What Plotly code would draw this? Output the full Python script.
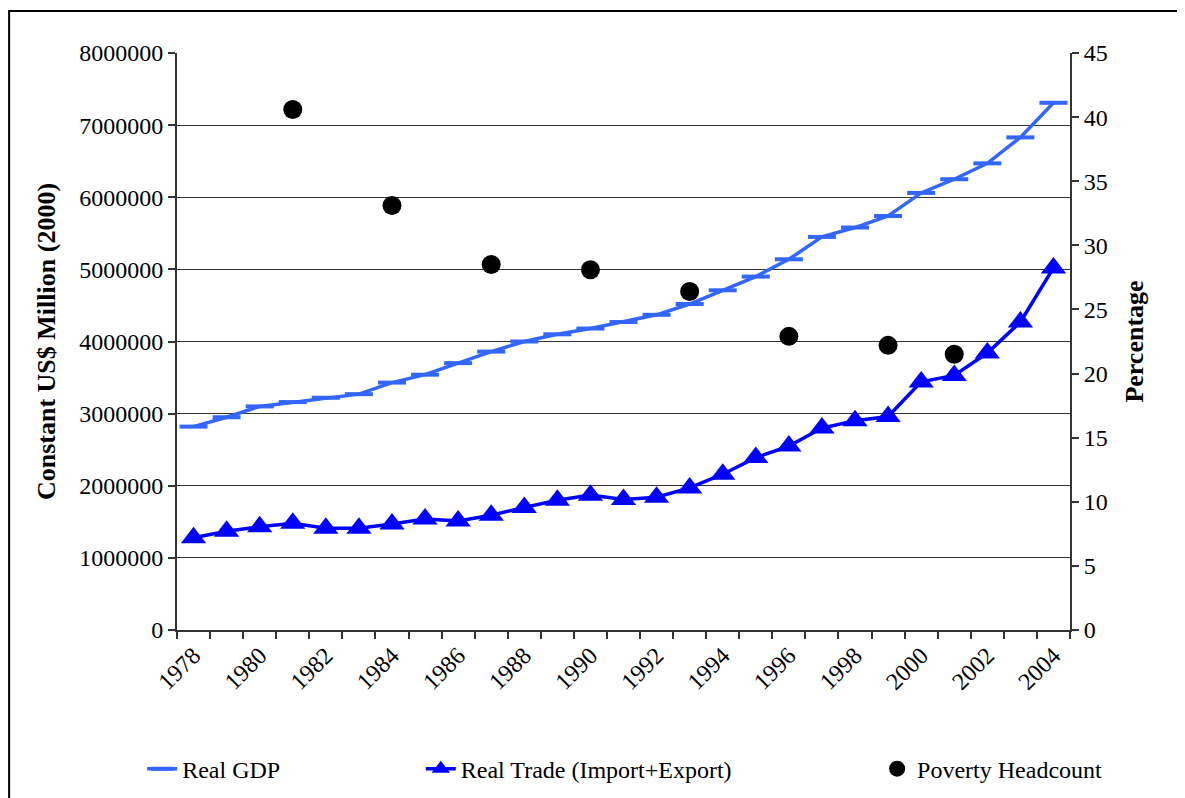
import plotly.graph_objects as go

years = list(range(1978, 2005))

real_gdp = [2820000, 2950000, 3100000, 3160000, 3220000, 3270000, 3430000, 3540000, 3700000,
            3860000, 4000000, 4100000, 4180000, 4270000, 4370000, 4520000, 4710000, 4900000,
            5140000, 5450000, 5580000, 5740000, 6060000, 6250000, 6470000, 6830000, 7310000]

real_trade = [1280000, 1370000, 1430000, 1480000, 1410000, 1410000, 1470000, 1540000, 1510000,
              1590000, 1700000, 1800000, 1870000, 1810000, 1840000, 1970000, 2160000, 2390000,
              2550000, 2800000, 2900000, 2960000, 3440000, 3530000, 3840000, 4270000, 5020000]

poverty_years = [1981, 1984, 1987, 1990, 1993, 1996, 1999, 2001]
poverty_headcount = [40.6, 33.1, 28.5, 28.1, 26.4, 22.9, 22.2, 21.5]

tick_years = years[::2]
boundaries = [y - 0.5 for y in years] + [years[-1] + 0.5]

font = "Liberation Serif, Times New Roman, serif"
axis_color = "#333333"

fig = go.Figure()

fig.add_trace(go.Scatter(
    x=years, y=real_gdp, name="Real GDP", mode="lines+markers",
    line=dict(color="#3366FF", width=3.5),
    marker=dict(symbol="line-ew", size=20, line=dict(color="#3366FF", width=4)),
    legend="legend",
))

fig.add_trace(go.Scatter(
    x=years, y=real_trade, name="Real Trade (Import+Export)", mode="lines+markers",
    line=dict(color="#0000FF", width=3.5),
    marker=dict(symbol="triangle-up", size=22, color="#0000FF"),
    legend="legend2",
))

fig.add_trace(go.Scatter(
    x=poverty_years, y=poverty_headcount, name="Poverty Headcount", mode="markers",
    marker=dict(symbol="circle", size=19, color="black"),
    yaxis="y2", legend="legend3",
))

legend_style = dict(orientation="h", yanchor="middle", y=-0.241, xanchor="left",
                    font=dict(family=font, size=24, color="black"), bgcolor="rgba(0,0,0,0)")

fig.update_layout(
    width=1177, height=790,
    margin=dict(l=169, r=115, t=45, b=168, autoexpand=False),
    plot_bgcolor="white", paper_bgcolor="white",
    font=dict(family=font, size=24, color="black"),
    showlegend=True,
    legend=dict(x=-0.039, **legend_style),
    legend2=dict(x=0.273, **legend_style),
    legend3=dict(x=0.784, **legend_style),
    xaxis=dict(
        range=[1977.5, 2004.5], tickmode="array", tickvals=tick_years,
        ticktext=[str(y) for y in tick_years], tickangle=-45, ticks="",
        showline=True, linecolor=axis_color, linewidth=2, showgrid=False, zeroline=False,
        minor=dict(tickmode="array", tickvals=boundaries, ticks="outside", ticklen=7,
                   tickcolor=axis_color, tickwidth=1.5, showgrid=False),
        tickfont=dict(family=font, size=24),
    ),
    yaxis=dict(
        range=[0, 8000000], dtick=1000000, tickformat="d",
        showline=True, linecolor=axis_color, linewidth=2,
        ticks="outside", ticklen=7, tickcolor=axis_color, tickwidth=1.5,
        showgrid=True, gridcolor="#333333", gridwidth=1, zeroline=False,
        tickfont=dict(family=font, size=24),
        title=dict(text="<b>Constant US$ Million (2000)</b>", font=dict(family=font, size=26),
                   standoff=16),
    ),
    yaxis2=dict(
        range=[0, 45], dtick=5, overlaying="y", side="right",
        showline=True, linecolor=axis_color, linewidth=2,
        ticks="outside", ticklen=7, tickcolor=axis_color, tickwidth=1.5,
        showgrid=False, zeroline=False,
        tickfont=dict(family=font, size=24),
        title=dict(text="<b>Percentage</b>", font=dict(family=font, size=26), standoff=18),
    ),
    shapes=[dict(type="rect", xref="paper", yref="paper",
                 x0=-0.188, x1=1.14, y0=-0.32, y1=1.0728,
                 line=dict(color="black", width=2), fillcolor="rgba(0,0,0,0)", layer="below")],
)

fig.write_html("out.html")
